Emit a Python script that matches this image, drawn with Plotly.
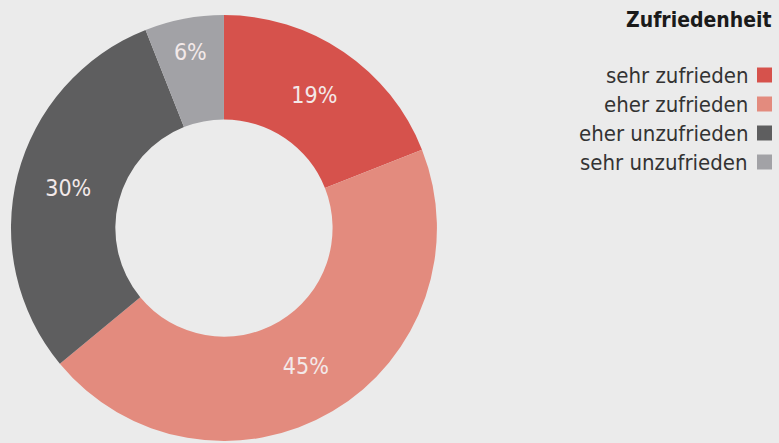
import plotly.graph_objects as go

categories = ["sehr zufrieden", "eher zufrieden", "eher unzufrieden", "sehr unzufrieden"]
values = [19, 45, 30, 6]
colors = ["#d6524c", "#e38b7e", "#5e5e5f", "#a2a2a6"]
legend_title = "Zufriedenheit"

FONT = "DejaVu Sans Condensed, Liberation Sans Narrow, Open Sans, sans-serif"

fig = go.Figure(go.Pie(
    labels=categories,
    values=values,
    hole=0.51,
    sort=False,
    direction="clockwise",
    rotation=0,
    marker=dict(colors=colors, line=dict(width=0)),
    texttemplate="%{value}%",
    textposition="inside",
    insidetextorientation="horizontal",
    textfont=dict(family=FONT, size=23, color="#f3e9e9"),
    domain=dict(x=[0.014, 0.561], y=[0.0045, 0.966]),
    showlegend=False,
))

W, H = 779, 443
annotations = [dict(
    x=774 / W, y=1 - 20 / H, xref="paper", yref="paper", text="<b>" + legend_title + "</b>",
    showarrow=False, xanchor="right", yanchor="middle",
    font=dict(family=FONT, size=21, color="#1a1a1a"))]
shapes = []
for i, (c, col) in enumerate(zip(categories, colors)):
    yc = 75 + i * 29
    annotations.append(dict(
        x=750 / W, y=1 - yc / H, xref="paper", yref="paper", text=c,
        showarrow=False, xanchor="right", yanchor="middle",
        font=dict(family=FONT, size=22, color="#333333")))
    shapes.append(dict(type="rect", xref="paper", yref="paper",
                       x0=757 / W, x1=772 / W, y0=1 - (yc + 7.5) / H, y1=1 - (yc - 7.5) / H,
                       fillcolor=col, line=dict(width=0)))

fig.update_layout(
    width=W, height=H,
    margin=dict(l=0, r=0, t=0, b=0),
    paper_bgcolor="#ebebeb",
    plot_bgcolor="#ebebeb",
    annotations=annotations,
    shapes=shapes,
)

fig.write_html("out.html", config={"displayModeBar": False},
               post_script="document.body.style.margin='0';document.body.style.background='#ebebeb';")
